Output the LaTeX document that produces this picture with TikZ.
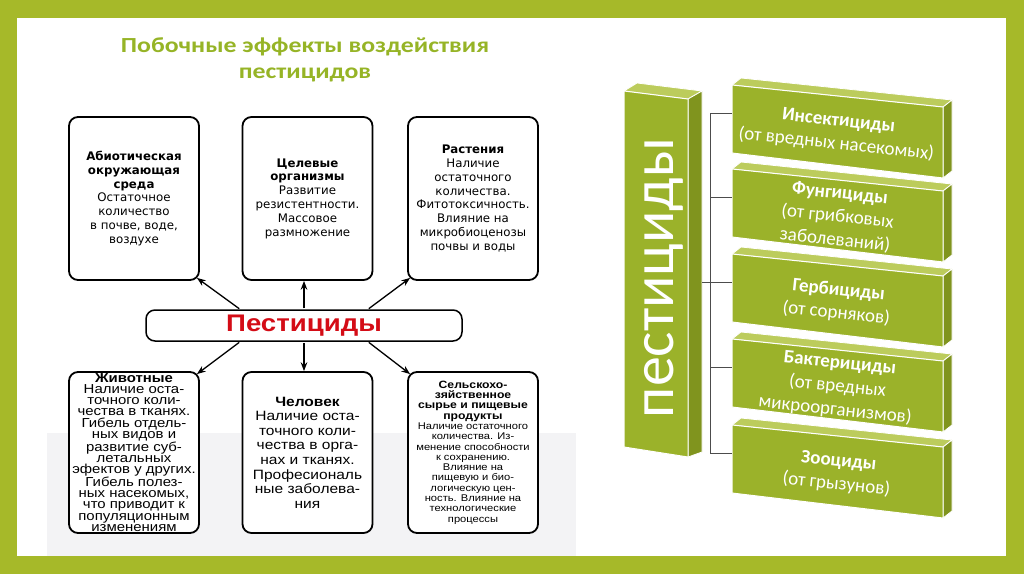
\documentclass[tikz,border=0pt]{standalone}
\usepackage{fontspec}
\setmainfont{Liberation Sans}
\newfontfamily\tahfont{DejaVu Sans}
\newfontfamily\arialw[FakeStretch=1.15]{Liberation Sans}
\newfontfamily\calfont{Carlito}
\newfontfamily\calwide[FakeStretch=1.2]{Carlito}
\usetikzlibrary{arrows.meta, positioning}

\definecolor{framegreen}{RGB}{166,185,41}
\definecolor{bargreen}{RGB}{155,178,42}
\definecolor{bartopc}{RGB}{188,204,92}
\definecolor{barsidec}{RGB}{128,148,30}
\definecolor{titlegreen}{RGB}{150,180,38}
\definecolor{bandgrey}{RGB}{243,243,245}
\definecolor{pestred}{RGB}{212,12,22}

\newcommand{\agrohead}[1]{{\fontsize{10.6}{13.3}\selectfont\bfseries #1}}

% one green 3D bar on the right: #1 name, #2 top y (left edge), #3 title, #4 subtitle
\newcommand{\pestbar}[4]{%
  \filldraw[bartopc, draw=white, line width=0.8pt] (732,#2) -- (741,#2-7) -- (952,#2+15) -- (943,#2+22) -- cycle;
  \filldraw[barsidec, draw=white, line width=0.8pt] (943,#2+22) -- (952,#2+15) -- (952,#2+86) -- (943,#2+93) -- cycle;
  \filldraw[bargreen, draw=white, line width=1pt] (732,#2) -- (943,#2+22) -- (943,#2+93) -- (732,#2+68) -- cycle;
  \node[bartext] (#1) at (837.5,#2+48) {\textbf{#3}\\#4};
  \coordinate (#1-w) at (732,#2+28);
}

\begin{document}
\begin{tikzpicture}[x=1pt, y=-1pt, >=Stealth,
    effbox/.style={draw=black, line width=1.8pt, rounded corners=9pt, fill=white,
      minimum width=130pt, minimum height=163pt, align=center, inner sep=1pt},
    topfont/.style={font=\tahfont\fontsize{11.8}{13.8}\selectfont},
    botfont/.style={font=\arialw\fontsize{13}{11.1}\selectfont},
    arr/.style={->, line width=1.3pt, shorten <=1pt},
    bartext/.style={text=white, align=center, rotate=-6,
      font=\calfont\fontsize{19}{23.5}\selectfont},
    brk/.style={draw=black!70, line width=0.8pt}]

    % 1. Frame and background
    \fill[framegreen] (0,0) rectangle (1024,574);
    \fill[white] (17,18) rectangle (1006,556);
    \fill[bandgrey] (47,433) rectangle (576,556);
    \useasboundingbox (0,0) rectangle (1024,574);

    % 2. Title
    \node[text=titlegreen, align=center, font=\calwide\bfseries\fontsize{21.5}{26}\selectfont] (title) at (305,60)
        {Побочные эффекты воздействия\\пестицидов};

    % 3. Effect boxes
    \node[effbox, topfont] (abio) at (134,198.5)
        {\textbf{Абиотическая}\\\textbf{окружающая}\\\textbf{среда}\\Остаточное\\количество\\в почве, воде,\\воздухе};
    \node[effbox, topfont] (target) at (307.5,198.5)
        {\textbf{Целевые}\\\textbf{организмы}\\Развитие\\резистентности.\\Массовое\\размножение};
    \node[effbox, topfont] (plant) at (473,198.5)
        {\textbf{Растения}\\Наличие\\остаточного\\количества.\\Фитотоксичность.\\Влияние на\\микробиоценозы\\почвы и воды};

    \node[effbox, botfont, minimum height=161pt] (animal) at (134,452.5)
        {\textbf{Животные}\\Наличие оста-\\точного коли-\\чества в тканях.\\Гибель отдель-\\ных видов и\\развитие суб-\\летальных\\эфектов у других.\\Гибель полез-\\ных насекомых,\\что приводит к\\популяционным\\изменениям};
    \node[effbox, font=\arialw\fontsize{13.5}{14.6}\selectfont, minimum height=161pt] (human) at (307.5,452.5)
        {\textbf{Человек}\\Наличие оста-\\точного коли-\\чества в орга-\\нах и тканях.\\Професиональ\\ные заболева-\\ния};
    \node[effbox, font=\arialw\fontsize{9.7}{10.3}\selectfont, minimum height=161pt] (agro) at (473,452.5)
        {\agrohead{Сельскохо-}\\\agrohead{зяйственное}\\\agrohead{сырье и пищевые}\\\agrohead{продукты}\\Наличие остаточного\\количества. Из-\\менение способности\\к сохранению.\\Влияние на\\пищевую и био-\\логическую цен-\\ность. Влияние на\\технологические\\процессы};

    % 4. Central node
    \node[draw=black, line width=1.5pt, rounded corners=9pt, fill=white, minimum width=316pt, minimum height=31pt,
        text=pestred, font=\arialw\bfseries\fontsize{24}{24}\selectfont] (pest) at (304,325.5) {Пестициды};

    % 5. Arrows
    \draw[arr] ([xshift=-64pt]pest.north) -- ([shift={(-3,-3)}]abio.south east);
    \draw[arr] (pest.north) -- (pest.north |- target.south);
    \draw[arr] ([xshift=64pt]pest.north) -- ([shift={(3,-3)}]plant.south west);
    \draw[arr] ([xshift=-64pt]pest.south) -- ([shift={(-3,3)}]animal.north east);
    \draw[arr] (pest.south) -- (pest.south |- human.north);
    \draw[arr] ([xshift=64pt]pest.south) -- ([shift={(3,3)}]agro.north west);

    % 6. Vertical bar
    \filldraw[bartopc, draw=white, line width=0.8pt] (624,91) -- (637,83) -- (702,91) -- (688,99) -- cycle;
    \filldraw[barsidec, draw=white, line width=0.8pt] (688,99) -- (702,91) -- (702,452) -- (688,457) -- cycle;
    \filldraw[bargreen, draw=white, line width=1pt] (624,91) -- (688,99) -- (688,457) -- (624,447) -- cycle;
    \node[text=white, rotate=90, font=\calfont\fontsize{60}{60}\selectfont] (pestv) at (664,278) {пестициды};
    \coordinate (pestv-e) at (702,282);

    % 7. Pesticide groups
    \pestbar{insect}{85}{Инсектициды}{(от вредных насекомых)}
    \pestbar{fungi}{169}{Фунгициды}{(от грибковых\\заболеваний)}
    \pestbar{herbi}{254}{Гербициды}{(от сорняков)}
    \pestbar{bacter}{339}{Бактерициды}{(от вредных\\микроорганизмов)}
    \pestbar{zoo}{425}{Зооциды}{(от грызунов)}

    % 8. Bracket
    \coordinate (brtop) at (710,113);
    \draw[brk] (brtop) -- (brtop |- zoo-w);
    \foreach \g in {insect, fungi, herbi, bacter, zoo}
        \draw[brk] (brtop |- \g-w) -- (\g-w);
    \draw[brk] (pestv-e) -- (pestv-e -| brtop);

\end{tikzpicture}
\end{document}
